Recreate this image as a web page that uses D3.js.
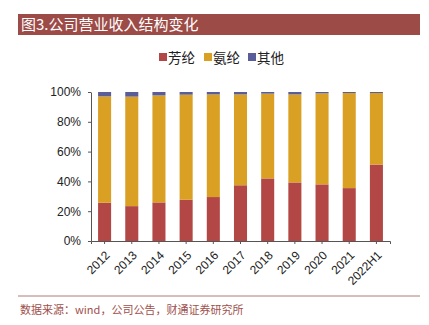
<!DOCTYPE html>
<html><head><meta charset="utf-8">
<script src="https://cdn.jsdelivr.net/npm/d3@7"></script>
<style>body{margin:0;background:#fff;}svg{display:block;}</style>
</head><body>
<svg id="c" width="429" height="325"></svg>
<script>
const categories = ["2012","2013","2014","2015","2016","2017","2018","2019","2020","2021","2022H1"];
const aramid  = [25.7,23.4,25.9,27.7,29.5,37.4,42.0,39.3,38.0,35.5,51.3];
const spandex = [71.4,73.5,71.8,70.5,68.9,61.0,56.9,59.1,61.1,63.8,48.0];
const other   = [2.9,3.1,2.3,1.8,1.6,1.6,1.1,1.6,0.9,0.7,0.7];
const seriesNames = ["芳纶","氨纶","其他"];
const yTicks = [0,20,40,60,80,100];
const title = "图3.公司营业收入结构变化";
const source = "数据来源：wind，公司公告，财通证券研究所";

const colors = ["#b24745","#daa023","#5a5e98"];
const svg = d3.select("#c");

// title bar
svg.append("rect").attr("x",18).attr("y",14).attr("width",402).attr("height",21).attr("fill","#9c4b47");
svg.append("text").attr("x",21).attr("y",30).attr("fill","#fff")
  .attr("font-family","'Noto Sans CJK SC',sans-serif").attr("font-size",15).text(title);

const rows = categories.map((c,i)=>({cat:c, a:aramid[i], s:spandex[i], o:other[i]}));
const stack = d3.stack().keys(["a","s","o"])(rows);

const x = d3.scaleBand().domain(categories).range([91,390]).paddingInner(0.52).paddingOuter(0.26);
const y = d3.scaleLinear().domain([0,100]).range([241,92]);

const g = svg.append("g");
stack.forEach((layer,li)=>{
  g.selectAll(null).data(layer).enter().append("rect")
    .attr("x",d=>x(d.data.cat)).attr("width",x.bandwidth())
    .attr("y",d=>y(d[1])).attr("height",d=>y(d[0])-y(d[1]))
    .attr("fill",colors[li]);
});

// y axis
const ya = svg.append("g").attr("transform","translate(91,0)")
  .call(d3.axisLeft(y).tickValues(yTicks).tickFormat(d=>d+"%").tickSize(3).tickSizeOuter(0));
ya.select(".domain").attr("stroke","#555");
ya.selectAll(".tick line").attr("stroke","#555");
ya.selectAll("text").attr("font-family","'Liberation Sans',Arial,sans-serif").attr("font-size",12).attr("fill","#222").attr("x",-10);

// x axis
const xa = svg.append("g").attr("transform","translate(0,241)")
  .call(d3.axisBottom(x).tickSize(3).tickSizeOuter(3));
xa.select(".domain").attr("stroke","#555");
xa.selectAll(".tick line").attr("stroke","#555");
xa.selectAll("text").attr("font-family","'Liberation Sans',Arial,sans-serif").attr("font-size",12).attr("fill","#222")
  .attr("text-anchor","end").attr("dy",0).attr("dx",0).attr("y",0)
  .attr("transform","translate(6,15) rotate(-45)");

// legend
const legX = [159,204,248];
seriesNames.forEach((n,i)=>{
  svg.append("rect").attr("x",legX[i]).attr("y",53).attr("width",8).attr("height",8).attr("fill",colors[i]);
  svg.append("text").attr("x",legX[i]+9).attr("y",63).attr("font-family","'Noto Sans CJK SC',sans-serif")
    .attr("font-size",13.5).attr("fill","#222").text(n);
});

// bottom rule and source
svg.append("line").attr("x1",18).attr("x2",420).attr("y1",296).attr("y2",296).attr("stroke","#b07a78").attr("stroke-width",1);
svg.append("text").attr("x",20).attr("y",314).attr("fill","#a0504c")
  .attr("font-family","'Noto Sans CJK SC',sans-serif").attr("font-size",11).text(source);
</script>
</body></html>
